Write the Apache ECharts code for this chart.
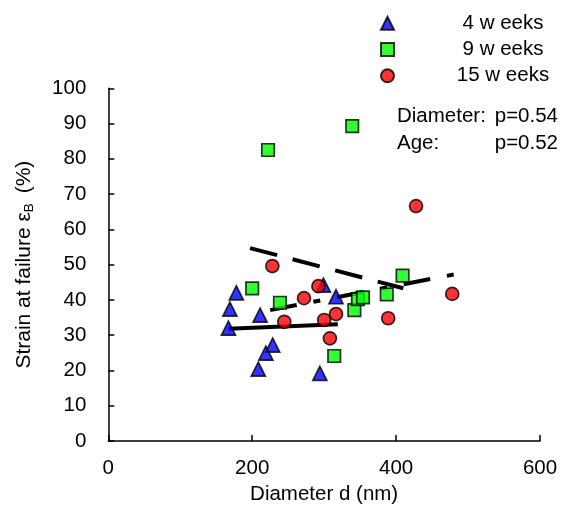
<!DOCTYPE html>
<html>
<head>
<meta charset="utf-8">
<script src="https://cdn.jsdelivr.net/npm/echarts@6/dist/echarts.min.js"></script>
<style>html,body{margin:0;padding:0;background:#fff}#c{width:564px;height:515px}</style>
</head>
<body>
<div id="c"></div>
<script>
// Data: [diameter (nm), strain at failure (%)]
var weeks4 = [[178,42.0],[169,37.4],[167,32.0],[211,35.7],[228.5,27.2],[219,24.9],[208.5,20.4],[299,44.2],[316.5,40.9],[294,19.2]];
var weeks9 = [[200,43.3],[222,82.5],[238.6,39.2],[339,89.3],[314,24.1],[342,37.1],[347,40.2],[354,40.7],[387,41.6],[409,46.9]];
var weeks15 = [[228,49.6],[292,43.9],[272,40.5],[244.6,33.8],[300,34.3],[316.5,36.0],[308,29.1],[389,34.8],[478,41.7],[427.7,66.6]];
// Regression line endpoints
var fit4 = [[167,31.8],[319,33.1]];
var fit9 = [[197,54.7],[410,43.3]];
var fit15 = [[225,37.1],[480,47.2]];
var seriesNames = ['4 w eeks','9 w eeks','15 w eeks'];
var xTicks = {min:0, max:600, interval:200};
var yTicks = {min:0, max:100, interval:10};
var notes = [['Diameter:','p=0.54'],['Age:','p=0.52']];

var FONT = '"Liberation Sans", Arial, sans-serif';
var chart = echarts.init(document.getElementById('c'), null, {renderer:'canvas'});
var mk = {borderColor:'#000', borderWidth:1.7};
chart.setOption({
  animation:false,
  textStyle:{fontFamily:FONT, color:'#000'},
  grid:{left:108.3, right:24, top:88.3, bottom:74, containLabel:false, outerBoundsMode:'none'},
  xAxis:{type:'value', min:xTicks.min, max:xTicks.max, interval:xTicks.interval,
    name:'Diameter d (nm)', nameLocation:'middle', nameGap:41,
    nameTextStyle:{fontSize:20.5, color:'#000', fontFamily:FONT},
    axisLine:{lineStyle:{color:'#000', width:1.5}},
    axisTick:{inside:true, length:6, lineStyle:{color:'#000', width:1.5}},
    axisLabel:{fontSize:20.5, color:'#000', margin:17, fontFamily:FONT},
    splitLine:{show:false}},
  yAxis:{type:'value', min:yTicks.min, max:yTicks.max, interval:yTicks.interval,
    name:'Strain at failure ε{sub|B} (%)', nameLocation:'middle', nameGap:72, nameRotate:90,
    nameTextStyle:{fontSize:21, color:'#000', fontFamily:FONT, lineHeight:24,
      rich:{sub:{fontSize:13.5, lineHeight:8, verticalAlign:'bottom', fontFamily:FONT, color:'#000', padding:[0,4,0,0]}}},
    axisLine:{show:true, lineStyle:{color:'#000', width:1.5}},
    axisTick:{show:true, inside:true, length:6, lineStyle:{color:'#000', width:1.5}},
    axisLabel:{fontSize:20.5, color:'#000', margin:22, fontFamily:FONT},
    splitLine:{show:false}},
  legend:{orient:'vertical', left:380, top:12.7, padding:0, itemWidth:13, itemHeight:13, itemGap:5.3,
    data:seriesNames,
    formatter:function(n){return '{t|'+n+'}';},
    textStyle:{fontFamily:FONT, color:'#000', fontSize:20.5,
      rich:{t:{width:208, align:'center', fontSize:20.5, lineHeight:20, fontFamily:FONT, color:'#000'}}}},
  graphic:[
    {type:'text', left:397, top:106, style:{text:notes[0][0], font:'20.5px '+FONT, fill:'#000'}},
    {type:'text', right:6, top:106, style:{text:notes[0][1], font:'20.5px '+FONT, fill:'#000'}},
    {type:'text', left:397, top:133, style:{text:notes[1][0], font:'20.5px '+FONT, fill:'#000'}},
    {type:'text', right:6, top:133, style:{text:notes[1][1], font:'20.5px '+FONT, fill:'#000'}}
  ],
  series:[
    {type:'line', data:fit4, symbol:'none', silent:true, z:1, lineStyle:{color:'#000', width:4, type:'solid'}},
    {type:'line', data:fit9, symbol:'none', silent:true, z:1, lineStyle:{color:'#000', width:4, type:[28,16]}},
    {type:'line', data:fit15, symbol:'none', silent:true, z:1, lineStyle:{color:'#000', width:4, type:[27,17,7,17]}},
    {name:seriesNames[0], type:'scatter', data:weeks4, symbol:'triangle', symbolSize:14, z:3, itemStyle:Object.assign({color:'#0000FF'}, mk)},
    {name:seriesNames[1], type:'scatter', data:weeks9, symbol:'rect', symbolSize:12.5, z:3, itemStyle:Object.assign({color:'#00FF00'}, mk)},
    {name:seriesNames[2], type:'scatter', data:weeks15, symbol:'circle', symbolSize:13, z:3, itemStyle:Object.assign({color:'#FF0000'}, mk)}
  ]
});
</script>
</body>
</html>
